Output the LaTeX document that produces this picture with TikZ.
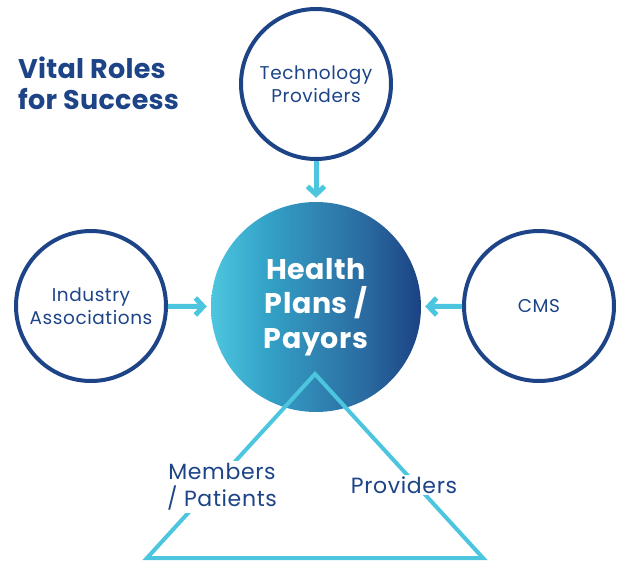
\documentclass[tikz,border=0pt]{standalone}
\usepackage{fontspec}
\setmainfont{Poppins}
\usetikzlibrary{arrows.meta}
\definecolor{navy}{HTML}{1E4488}
\definecolor{cyanl}{HTML}{4CC6DF}
\definecolor{gA}{HTML}{4EC6DF}
\definecolor{gB}{HTML}{33A3C8}
\definecolor{gC}{HTML}{3085B3}
\definecolor{gD}{HTML}{2A6AA0}
\definecolor{gE}{HTML}{1B4284}
\pgfdeclarehorizontalshading{hpshade}{100bp}{color(0bp)=(gA); color(25bp)=(gA); color(38bp)=(gB); color(50bp)=(gC); color(62bp)=(gD); color(75bp)=(gE); color(100bp)=(gE)}
\tikzset{
  smallc/.style={circle, draw=navy, line width=4pt, minimum size=150pt, inner sep=0pt, align=center, text=navy, font=\fontsize{18.5}{22.5}\selectfont\addfontfeatures{LetterSpace=3}},
  bigc/.style={circle, minimum size=210pt, inner sep=0pt, shade, shading=hpshade, align=center, text=white, font=\fontsize{28.5}{34.5}\selectfont\bfseries\addfontfeatures{LetterSpace=2}},
  arr/.style={draw=cyanl, line width=5pt, -{Straight Barb[length=8pt, width=17pt]}, shorten >=4pt},
  tri/.style={draw=cyanl, line width=4pt, line join=miter},
  lab/.style={fill=white, align=center, text=navy, font=\fontsize{22}{27}\selectfont\addfontfeatures{LetterSpace=3}, inner sep=2pt},
  ttl/.style={align=left, text=navy, font=\fontsize{27}{31}\selectfont\bfseries\addfontfeatures{LetterSpace=1}, inner sep=0pt}
}
\begin{document}
\begin{tikzpicture}[x=1pt, y=-1pt]
\useasboundingbox (0,0) rectangle (624,565);
\node[ttl, anchor=west] (title) at (18,83) {Vital Roles\\for Success};
\node[smallc] (tech) at (316,84) {Technology\\Providers};
\node[smallc] (ind) at (91,306) {Industry\\Associations};
\node[smallc] (cms) at (539,306) {CMS};
\node[bigc] (hp) at (316,307) {Health\\Plans /\\Payors};
\draw[arr] (tech) -- (hp);
\draw[arr] (ind) -- (hp);
\draw[arr] (cms) -- (hp);
\coordinate (t1) at (315,374);
\coordinate (t2) at (147,558);
\coordinate (t3) at (483,558);
\draw[tri] (t1) -- (t2) -- (t3) -- cycle;
\node[lab] (mem) at (222,487) {Members\\/ Patients};
\node[lab] (prov) at (404,485) {Providers};
\end{tikzpicture}
\end{document}
